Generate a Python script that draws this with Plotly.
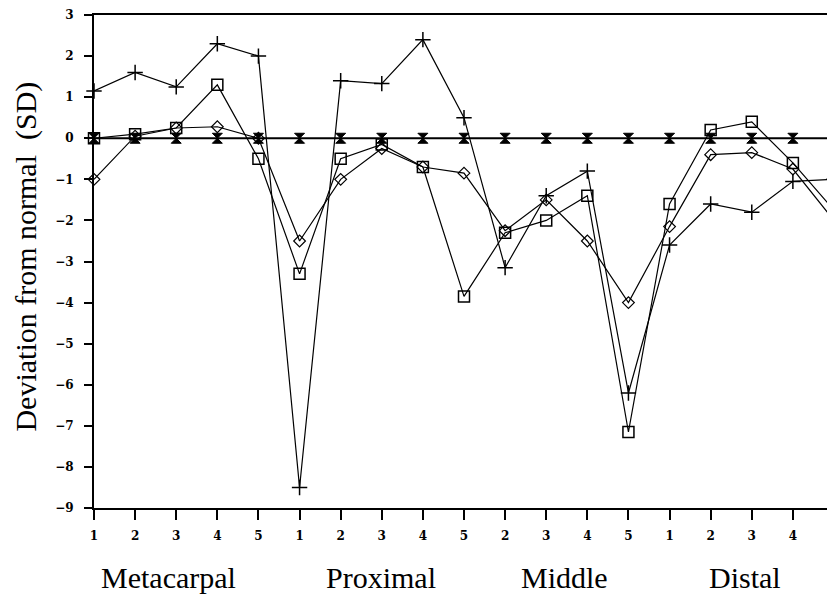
import plotly.graph_objects as go

tick_labels = ["1", "2", "3", "4", "5",
               "1", "2", "3", "4", "5",
               "2", "3", "4", "5",
               "1", "2", "3", "4", "5"]
groups = ["Metacarpal", "Proximal", "Middle", "Distal"]
group_centers = [1.8, 6.98, 11.44, 15.84]

plus_vals = [1.15, 1.6, 1.25, 2.3, 2.0,
             -8.5, 1.4, 1.33, 2.4, 0.5,
             -3.15, -1.4, -0.8, -6.2,
             -2.6, -1.6, -1.8, -1.05, -1.0]
square_vals = [0.0, 0.1, 0.25, 1.3, -0.5,
               -3.3, -0.5, -0.15, -0.7, -3.85,
               -2.3, -2.0, -1.4, -7.15,
               -1.6, 0.2, 0.4, -0.6, -1.75]
diamond_vals = [-1.0, 0.05, 0.25, 0.28, 0.0,
                -2.5, -1.0, -0.25, -0.7, -0.85,
                -2.25, -1.5, -2.5, -4.0,
                -2.15, -0.4, -0.35, -0.75, -2.0]
normal_vals = [0.0] * 19

x = list(range(len(tick_labels)))

fig = go.Figure()
fig.add_trace(go.Scatter(x=x, y=normal_vals, mode="lines+markers",
                         line=dict(color="black", width=2),
                         marker=dict(symbol="hourglass", size=10, color="black",
                                     line=dict(color="black", width=1)),
                         cliponaxis=False, showlegend=False))
fig.add_trace(go.Scatter(x=x, y=diamond_vals, mode="lines+markers",
                         line=dict(color="black", width=1.2),
                         marker=dict(symbol="diamond-open", size=9, color="black",
                                     line=dict(color="black", width=1.2)),
                         cliponaxis=False, showlegend=False))
fig.add_trace(go.Scatter(x=x, y=square_vals, mode="lines+markers",
                         line=dict(color="black", width=1.2),
                         marker=dict(symbol="square-open", size=11, color="black",
                                     line=dict(color="black", width=1.5)),
                         cliponaxis=False, showlegend=False))
fig.add_trace(go.Scatter(x=x, y=plus_vals, mode="lines+markers",
                         line=dict(color="black", width=1.2),
                         marker=dict(symbol="cross-thin-open", size=11, color="black",
                                     line=dict(color="black", width=1.5)),
                         cliponaxis=False, showlegend=False))

tickfont = dict(family="DejaVu Serif", size=12, color="black", weight="bold")

fig.update_xaxes(range=[0, 18], tickmode="array", tickvals=x, ticktext=tick_labels,
                 showline=True, linecolor="black", linewidth=2, mirror=True,
                 ticks="outside", ticklen=10, tickwidth=1.5, tickcolor="black",
                 showgrid=False, zeroline=False, tickfont=tickfont,
                 ticklabelstandoff=6, automargin=False)
fig.update_yaxes(range=[-9, 3], tickmode="array", tickvals=list(range(-9, 4)),
                 showline=True, linecolor="black", linewidth=2, mirror=True,
                 ticks="outside", ticklen=8, tickwidth=1.5, tickcolor="black",
                 showgrid=False, zeroline=False, tickfont=tickfont,
                 ticklabelstandoff=8, automargin=False)

# page has an 8px body margin; figure sized to fit the window
W, H = 827, 587
ml, mr, mt, mb = 86, 1, 7, 87
plot_w = W - ml - mr
plot_h = H - mt - mb
annotations = []
for g, c in zip(groups, group_centers):
    annotations.append(dict(x=c, y=(500 - 569) / plot_h, xref="x", yref="paper", text=g,
                            showarrow=False, xanchor="center", yanchor="middle",
                            font=dict(family="Liberation Serif", size=30, color="black")))
annotations.append(dict(x=(18 - 86) / plot_w, y=0.51, xref="paper", yref="paper",
                        text="Deviation from normal  (SD)", textangle=-90,
                        showarrow=False, xanchor="center", yanchor="middle",
                        font=dict(family="Liberation Serif", size=30, color="black")))

fig.update_layout(width=W, height=H,
                  margin=dict(l=ml, r=mr, t=mt, b=mb, autoexpand=False),
                  plot_bgcolor="white", paper_bgcolor="white",
                  annotations=annotations)

fig.write_html("out.html")
